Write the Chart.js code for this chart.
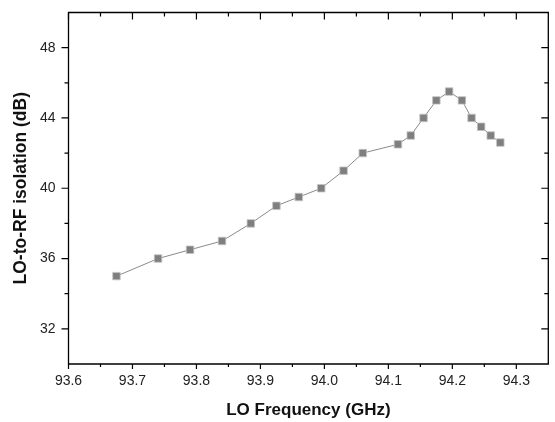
<!DOCTYPE html>
<html>
<head>
<meta charset="utf-8">
<script src="https://cdn.jsdelivr.net/npm/chart.js@4/dist/chart.umd.min.js"></script>
<style>
html,body{margin:0;padding:0;background:#fff;}
#wrap{width:555px;height:422px;position:relative;}
</style>
</head>
<body>
<div id="wrap"><canvas id="c" width="555" height="422"></canvas></div>
<script>
const frequencies = [93.675, 93.74, 93.79, 93.84, 93.885, 93.925, 93.96, 93.995, 94.03, 94.06, 94.115, 94.135, 94.155, 94.175, 94.195, 94.215, 94.23, 94.245, 94.26, 94.275];
const isolation = [35.0, 36.0, 36.5, 37.0, 38.0, 39.0, 39.5, 40.0, 41.0, 42.0, 42.5, 43.0, 44.0, 45.0, 45.5, 45.0, 44.0, 43.5, 43.0, 42.6];
const xMajorTicks = [93.6, 93.7, 93.8, 93.9, 94.0, 94.1, 94.2, 94.3];
const xMinorTicks = [93.65, 93.75, 93.85, 93.95, 94.05, 94.15, 94.25];
const yMajorTicks = [32, 36, 40, 44, 48];
const yMinorTicks = [34, 38, 42, 46];
const xLimits = [93.6, 94.35];
const yLimits = [30, 50];

const FONT = "'Liberation Sans', Arial, sans-serif";

const framePlugin = {
  id: 'frame',
  afterDraw(chart) {
    const {ctx, chartArea: a, scales: {x, y}} = chart;
    ctx.save();
    ctx.strokeStyle = '#000';
    ctx.lineWidth = 1.3;
    ctx.beginPath();
    ctx.rect(a.left, a.top, a.right - a.left, a.bottom - a.top);
    ctx.stroke();
    ctx.lineWidth = 1.2;
    ctx.beginPath();
    const tick = (x1, y1, x2, y2) => { ctx.moveTo(x1, y1); ctx.lineTo(x2, y2); };
    xMajorTicks.forEach(v => {
      const px = x.getPixelForValue(v);
      tick(px, a.bottom, px, a.bottom + 5);
      tick(px, a.top, px, a.top + 7);
    });
    xMinorTicks.forEach(v => {
      const px = x.getPixelForValue(v);
      tick(px, a.bottom, px, a.bottom + 3);
      tick(px, a.top, px, a.top + 4);
    });
    yMajorTicks.forEach(v => {
      const py = y.getPixelForValue(v);
      tick(a.left - 7, py, a.left, py);
      tick(a.right - 7, py, a.right, py);
    });
    yMinorTicks.forEach(v => {
      const py = y.getPixelForValue(v);
      tick(a.left - 4, py, a.left, py);
      tick(a.right - 4, py, a.right, py);
    });
    ctx.stroke();
    ctx.restore();
  }
};

new Chart(document.getElementById('c'), {
  type: 'line',
  data: {
    datasets: [{
      data: frequencies.map((f, i) => ({x: f, y: isolation[i]})),
      borderColor: '#8a8a8a',
      borderWidth: 1,
      pointStyle: 'rect',
      pointRadius: 5.3,
      pointBackgroundColor: '#7f7f7f',
      pointBorderColor: '#c4c4c4',
      pointBorderWidth: 0.8,
      tension: 0
    }]
  },
  options: {
    responsive: false,
    animation: false,
    devicePixelRatio: 1,
    layout: {padding: {top: 12.5, right: 6.7, left: 0, bottom: 0}},
    plugins: {legend: {display: false}, tooltip: {enabled: false}},
    scales: {
      x: {
        type: 'linear',
        min: xLimits[0], max: xLimits[1],
        afterBuildTicks: s => { s.ticks = xMajorTicks.map(v => ({value: v})); },
        afterFit: s => { s.height = 58; s.paddingLeft = 0; s.paddingRight = 0; },
        border: {display: false},
        grid: {display: false, drawTicks: false},
        ticks: {
          color: '#222',
          padding: 9,
          maxRotation: 0,
          autoSkip: false,
          font: {family: FONT, size: 14},
          callback: v => Number(v).toFixed(1)
        },
        title: {
          display: true,
          text: 'LO Frequency (GHz)',
          color: '#111',
          font: {family: FONT, size: 17, weight: 'bold'},
          padding: {top: 0, bottom: 1.8}
        }
      },
      y: {
        type: 'linear',
        min: yLimits[0], max: yLimits[1],
        afterBuildTicks: s => { s.ticks = yMajorTicks.map(v => ({value: v})); },
        afterFit: s => { s.width = 68.5; s.paddingTop = 0; s.paddingBottom = 0; },
        border: {display: false},
        grid: {display: false, drawTicks: false},
        ticks: {
          color: '#222',
          padding: 13,
          autoSkip: false,
          font: {family: FONT, size: 14},
          callback: v => String(v)
        },
        title: {
          display: true,
          text: 'LO-to-RF isolation (dB)',
          color: '#111',
          font: {family: FONT, size: 17.5, weight: 'bold'},
          padding: {top: 11, bottom: 0}
        }
      }
    }
  },
  plugins: [framePlugin]
});
</script>
</body>
</html>
